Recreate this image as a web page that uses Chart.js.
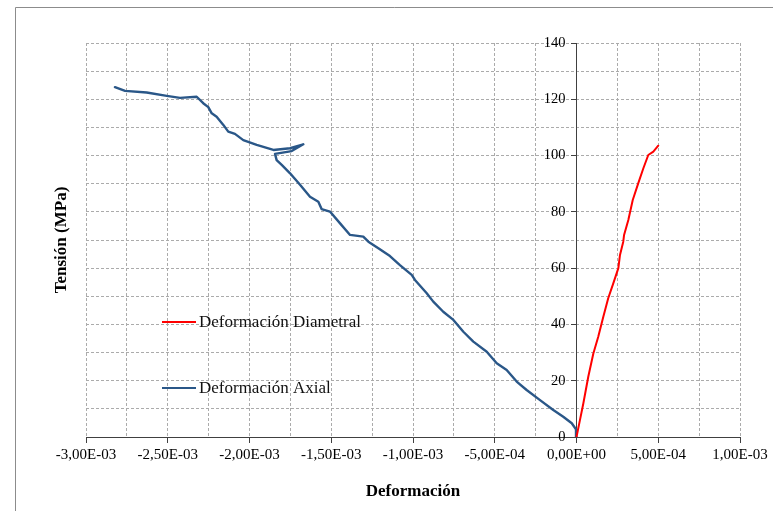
<!DOCTYPE html>
<html>
<head>
<meta charset="utf-8">
<script src="https://cdn.jsdelivr.net/npm/chart.js@4/dist/chart.umd.min.js"></script>
<style>
  html, body { margin: 0; padding: 0; background: #fff; }
  #wrap { width: 773px; height: 511px; position: relative; }
</style>
</head>
<body>
<div id="wrap"><canvas id="c" width="773" height="511"></canvas></div>
<script>
// ---- Data (deformation in strain units, stress in MPa) ----
const axialX = [0, -0.000003, -0.000029, -0.000081, -0.000142, -0.000223, -0.000305, -0.000366, -0.000427, -0.000488,
  -0.000549, -0.000631, -0.000692, -0.000753, -0.000815, -0.000876, -0.000916, -0.000988, -0.001008, -0.001080,
  -0.001141, -0.001212, -0.001273, -0.001304, -0.001385, -0.001446, -0.001508, -0.001559, -0.001579, -0.001630,
  -0.001691, -0.001752, -0.001803, -0.001834, -0.001844, -0.001742, -0.001671, -0.001752, -0.001854, -0.001956,
  -0.002038, -0.002089, -0.002130, -0.002160, -0.002201, -0.002231, -0.002252, -0.002283, -0.002323, -0.002425,
  -0.002506, -0.002629, -0.002761, -0.002823];
const axialY = [0, 2.7, 4.9, 7.2, 9.6, 13.1, 16.7, 19.7, 23.8, 26.2,
  30.3, 33.9, 37.4, 41.6, 44.5, 48.1, 51.1, 55.8, 57.6, 61.1,
  64.3, 67.1, 69.4, 71.2, 71.8, 75.9, 80.1, 81.0, 83.6, 85.4,
  89.6, 93.7, 96.7, 98.4, 100.6, 101.6, 104.0, 102.6, 102.0, 103.8,
  105.5, 107.7, 108.5, 110.9, 113.8, 115.0, 117.2, 118.6, 120.9, 120.5,
  121.2, 122.4, 123.0, 124.3];
const diamX = [0, 0.000021, 0.000042, 0.000072, 0.000103, 0.000133, 0.000164, 0.000194, 0.000225, 0.000256,
  0.000266, 0.000286, 0.000291, 0.000317, 0.000344, 0.000378, 0.000409, 0.000439, 0.000470, 0.000500];
const diamY = [0, 6.0, 12.0, 21.4, 29.7, 35.6, 42.7, 49.3, 54.6, 60.0,
  64.7, 69.4, 71.8, 77.1, 84.2, 90.2, 95.5, 100.2, 101.4, 103.5];
const seriesNames = ['Deformación Diametral', 'Deformación Axial'];
const seriesColors = ['#FF0000', '#2A5788'];
const xTitle = 'Deformación';
const yTitle = 'Tensión (MPa)';
const xMin = -0.003, xMax = 0.001, xStep = 0.00025;
const yMin = 0, yMax = 140, yStep = 10;

function fmtSci(v) {
  if (Math.abs(v) < 1e-12) v = 0;
  const s = v.toExponential(2); // e.g. -3.00e-3
  const [m, e] = s.split('e');
  const sign = e[0] === '-' ? '-' : '+';
  const d = e.replace(/[+-]/, '').padStart(2, '0');
  return m.replace('.', ',') + 'E' + sign + d;
}
const isMajorX = v => Math.round(Math.abs(v) / xStep) % 2 === 0;
const isMajorY = v => Math.round(Math.abs(v) / yStep) % 2 === 0;

const serif = "'Liberation Serif', 'Times New Roman', serif";

const decor = {
  id: 'decor',
  beforeDraw(chart) {
    const ctx = chart.ctx;
    ctx.save();
    ctx.fillStyle = '#fff';
    ctx.fillRect(0, 0, chart.width, chart.height);
    ctx.strokeStyle = '#8c8c8c';
    ctx.lineWidth = 1;
    ctx.beginPath();
    ctx.moveTo(15.5, chart.height);
    ctx.lineTo(15.5, 7.5);
    ctx.lineTo(chart.width, 7.5);
    ctx.stroke();
    ctx.restore();
  },
  afterDraw(chart) {
    const ctx = chart.ctx;
    const ca = chart.chartArea;
    const xs = chart.scales.x, ysc = chart.scales.y;
    // y tick labels, to the left of the crossing axis
    ctx.save();
    ctx.fillStyle = '#000';
    ctx.font = "14.5px " + serif;
    ctx.textAlign = 'right';
    ctx.textBaseline = 'middle';
    const axisPx = xs.getPixelForValue(0);
    ysc.ticks.forEach(t => {
      if (isMajorY(t.value)) ctx.fillText(String(t.value), axisPx - 11, ysc.getPixelForValue(t.value));
    });
    ctx.restore();
    // axis titles
    ctx.save();
    ctx.fillStyle = '#000';
    ctx.font = "bold 17px " + serif;
    ctx.textAlign = 'center';
    ctx.textBaseline = 'middle';
    ctx.fillText(xTitle, (ca.left + ca.right) / 2, 492);
    ctx.translate(62, 240);
    ctx.rotate(-Math.PI / 2);
    ctx.fillText(yTitle, 0, 0);
    ctx.restore();
    // legend inside plot
    const ys = [322, 388];
    ctx.save();
    ctx.font = "17px " + serif;
    ctx.textBaseline = 'middle';
    ctx.textAlign = 'left';
    chart.data.datasets.forEach((ds, i) => {
      ctx.strokeStyle = ds.borderColor;
      ctx.lineWidth = 2;
      ctx.beginPath();
      ctx.moveTo(162, ys[i]);
      ctx.lineTo(196, ys[i]);
      ctx.stroke();
      ctx.fillStyle = '#111';
      ctx.fillText(ds.label, 199, ys[i] + 1);
    });
    ctx.restore();
  }
};

const datasets = [
  { label: seriesNames[0], data: diamX.map((x, i) => ({ x, y: diamY[i] })), borderColor: seriesColors[0], borderWidth: 2 },
  { label: seriesNames[1], data: axialX.map((x, i) => ({ x, y: axialY[i] })), borderColor: seriesColors[1], borderWidth: 2.4 }
].map(d => Object.assign(d, { showLine: true, pointRadius: 0, tension: 0, fill: false,
  borderJoinStyle: 'round', borderCapStyle: 'round' }));

new Chart(document.getElementById('c'), {
  type: 'scatter',
  data: { datasets },
  options: {
    responsive: false,
    animation: false,
    devicePixelRatio: 1,
    layout: { padding: { left: 86, right: 33, top: 43, bottom: 74 } },
    plugins: { legend: { display: false }, tooltip: { enabled: false } },
    scales: {
      x: {
        type: 'linear', min: xMin, max: xMax,
        position: { y: 0 },
        ticks: {
          stepSize: xStep, autoSkip: false, maxRotation: 0, padding: 4,
          color: '#000', font: { family: serif, size: 15 },
          callback: v => isMajorX(v) ? fmtSci(v) : ''
        },
        grid: {
          color: '#ababab', lineWidth: 1, tickLength: 5,
          tickColor: c => (c.tick && isMajorX(c.tick.value)) ? '#404040' : 'rgba(0,0,0,0)',
          tickBorderDash: []
        },
        border: { display: true, color: '#404040', width: 1, dash: [3, 2] }
      },
      y: {
        type: 'linear', min: yMin, max: yMax,
        position: { x: 0 },
        ticks: {
          stepSize: yStep, autoSkip: false, display: false
        },
        grid: {
          color: '#ababab', lineWidth: 1, tickLength: 5,
          tickColor: c => (c.tick && isMajorY(c.tick.value)) ? '#404040' : 'rgba(0,0,0,0)',
          tickBorderDash: []
        },
        border: { display: true, color: '#404040', width: 1, dash: [3, 2] }
      }
    }
  },
  plugins: [decor]
});
</script>
</body>
</html>
